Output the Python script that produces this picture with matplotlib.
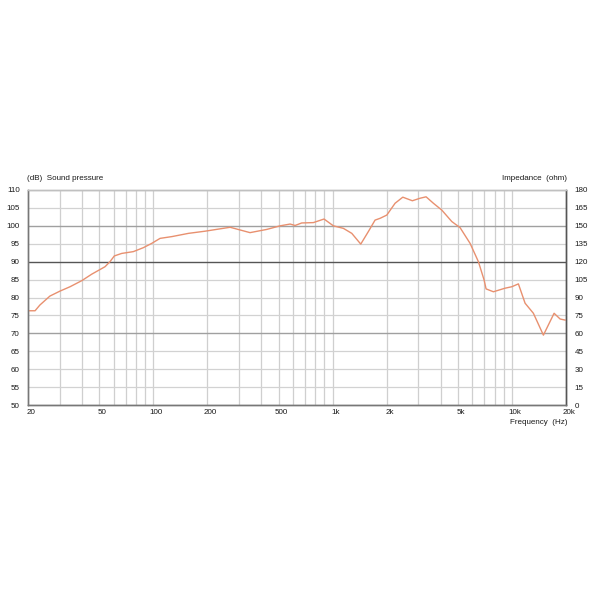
import numpy as np
import matplotlib.pyplot as plt
from matplotlib.ticker import FixedLocator, NullFormatter
from matplotlib.transforms import ScaledTranslation

plt.rcParams['font.family'] = ['Liberation Sans', 'DejaVu Sans']

# frequency response (Hz, dB)
freq = [20.3, 21.9, 23.3, 26.5, 30.2, 34.3, 39.9, 45.3, 53.8, 57.3, 60.6, 66.6,
        77.3, 87.9, 97.9, 109, 127, 157, 194, 268, 346, 429, 509, 579, 617, 672,
        780, 895, 1009, 1147, 1278, 1434, 1581, 1723, 1838, 2003, 2228, 2460,
        2782, 3071, 3318, 3644, 4058, 4614, 5133, 5838, 6494, 6986, 7168, 7876,
        9150, 9968, 10854, 11828, 13158, 14963, 17166, 18540, 19770]
spl = [76.3, 76.3, 77.9, 80.4, 81.8, 83.0, 84.7, 86.5, 88.6, 90.0, 91.6, 92.3,
       92.8, 93.9, 95.1, 96.5, 97.0, 97.9, 98.5, 99.6, 98.1, 99.0, 100.0, 100.5,
       100.1, 100.8, 100.9, 101.9, 100.0, 99.3, 97.9, 94.9, 98.4, 101.6, 102.1,
       103.0, 106.3, 108.0, 107.0, 107.7, 108.1, 106.3, 104.4, 101.2, 99.5, 95.1,
       90.0, 84.9, 82.4, 81.6, 82.6, 83.0, 83.8, 78.4, 75.6, 69.5, 75.6, 74.0, 73.7]

x_ticks = [20, 50, 100, 200, 500, 1000, 2000, 5000, 10000, 20000]
x_labels = ['20', '50', '100', '200', '500', '1k', '2k', '5k', '10k', '20k']
x_grid = [30, 40, 50, 60, 70, 80, 90, 100, 200, 300, 400, 500, 600, 700, 800, 900,
          1000, 2000, 3000, 4000, 5000, 6000, 7000, 8000, 9000, 10000]
db_ticks = list(range(50, 111, 5))
ohm_ticks = list(range(0, 181, 15))

fs = 5.8
txt_col = '#1a1a1a'

fig = plt.figure(figsize=(6, 6), dpi=100)
ax = fig.add_axes([28 / 600, 1 - 405 / 600, 538 / 600, 215 / 600])
ax.set_xscale('log')
ax.set_xlim(20, 20000)
ax.set_ylim(50, 110)

for f in x_grid:
    ax.axvline(f, color='#cfcfcf', lw=0.9, zorder=1)
for v in db_ticks:
    if v == 90:
        c, w = '#555555', 1.0
    elif v in (100, 70):
        c, w = '#a0a0a0', 1.0
    else:
        c, w = '#d2d2d2', 0.9
    ax.axhline(v, color=c, lw=w, zorder=1)

ax.plot(freq, spl, color='#e8906f', lw=1.0, zorder=3)

ax.xaxis.set_major_locator(FixedLocator(x_ticks))
ax.set_xticklabels(x_labels)
ax.xaxis.set_minor_formatter(NullFormatter())
ax.xaxis.set_minor_locator(FixedLocator([]))
ax.set_yticks(db_ticks)
ax.tick_params(length=0, labelsize=fs, colors=txt_col, pad=6)
ax.tick_params(axis='x', pad=3)
for lab in ax.get_xticklabels():
    lab.set_transform(lab.get_transform() + ScaledTranslation(3 / 100, 0, fig.dpi_scale_trans))

ax2 = ax.twinx()
ax2.set_ylim(0, 180)
ax2.set_yticks(ohm_ticks)
ax2.tick_params(length=0, labelsize=fs, colors=txt_col, pad=6)

for a in (ax, ax2):
    a.spines['left'].set_color('#777777')
    a.spines['bottom'].set_color('#777777')
    a.spines['right'].set_color('#555555')
    a.spines['top'].set_color('#c0c0c0')
    for s in a.spines.values():
        s.set_linewidth(1.0)

fig.text(27 / 600, 1 - 178 / 600, '(dB)  Sound pressure', fontsize=fs,
         color=txt_col, ha='left', va='center')
fig.text(567 / 600, 1 - 178 / 600, 'Impedance  (ohm)', fontsize=fs,
         color=txt_col, ha='right', va='center')
fig.text(567 / 600, 1 - 422 / 600, 'Frequency  (Hz)', fontsize=fs,
         color=txt_col, ha='right', va='center')

fig.savefig('out.png', dpi=100, facecolor='white')
